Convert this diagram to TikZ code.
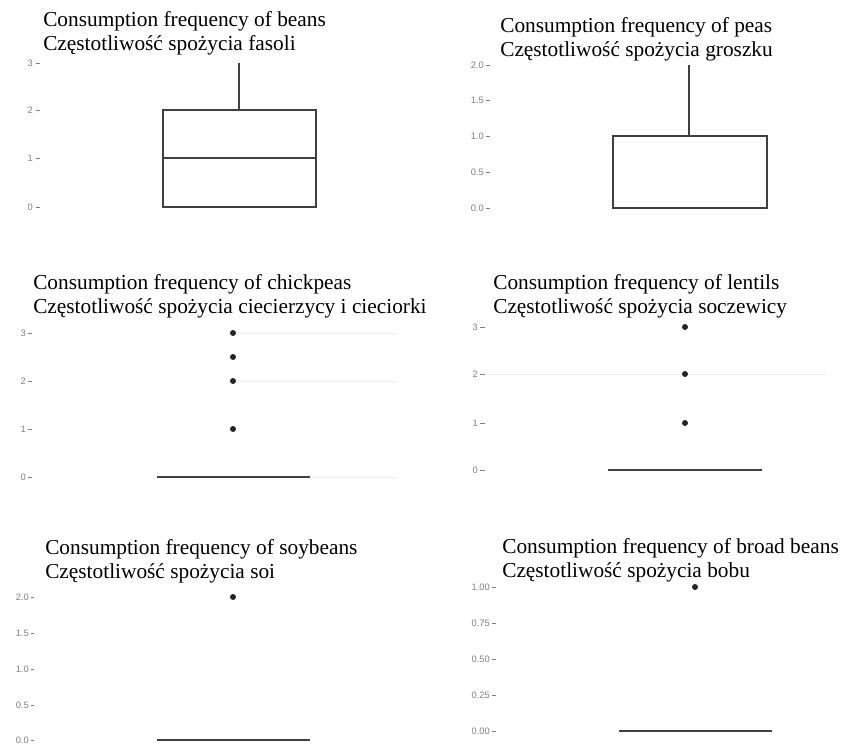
\documentclass[tikz,border=0pt]{standalone}
\usepackage{fontspec}
\setmainfont{Liberation Serif}
\newfontfamily\axisfont{Liberation Sans}
\begin{document}
\begin{tikzpicture}[x=0.75pt,y=-0.75pt,
    title/.style={anchor=base west,align=left,inner sep=0pt,
                  font=\fontsize{16}{17.5}\selectfont},
    ticklab/.style={anchor=east,inner sep=0pt,text=black!50,
                    font=\axisfont\fontsize{7}{8}\selectfont},
    tickmark/.style={draw=black!50,line width=0.5pt},
    boxline/.style={draw=black!75,line width=0.9pt},
    median/.style={draw=black!75,line width=2.2pt},
    outlier/.style={circle,fill=black!85,inner sep=0pt,minimum size=4.5pt},
    gridline/.style={draw=black!6,line width=0.5pt}]
  \useasboundingbox (0,0) rectangle (843,747);

  % beans
  \node[title] (tBeans) at (43,50) {Consumption frequency of beans\\ Częstotliwość spożycia fasoli};
  \foreach \v/\y in {0/207,1/158,2/110,3/63} {
    \node[ticklab] (beans\v) at (33,\y) {\v};
    \draw[tickmark] (36,\y) -- (40,\y);
  }
  \draw[boxline] (163,110) rectangle (316,207);
  \draw[median] (163,158) -- (316,158);
  \draw[boxline] (239,110) -- (239,63);

  % peas
  \node[title] (tPeas) at (500,56) {Consumption frequency of peas\\ Częstotliwość spożycia groszku};
  \foreach \v/\y in {0.0/208,0.5/172,1.0/136,1.5/100,2.0/65} {
    \node[ticklab] (peas\y) at (484,\y) {\v};
    \draw[tickmark] (486,\y) -- (490,\y);
  }
  \draw[boxline] (613,136) rectangle (767,208);
  \draw[median] (613,208) -- (767,208);
  \draw[boxline] (689,136) -- (689,65);

  % chickpeas
  \node[title] (tChick) at (33,313) {Consumption frequency of chickpeas\\ Częstotliwość spożycia ciecierzycy i cieciorki};
  \foreach \v/\y in {0/477,1/429,2/381,3/333} {
    \node[ticklab] (chick\v) at (26,\y) {\v};
    \draw[tickmark] (28,\y) -- (32,\y);
  }
  \draw[gridline] (233,333) -- (397,333);
  \draw[gridline] (233,381) -- (397,381);
  \draw[gridline] (310,477) -- (397,477);
  \draw[median] (157,477) -- (310,477);
  \foreach \y in {333,357,381,429} \node[outlier] (chickpt\y) at (233,\y) {};

  % lentils
  \node[title] (tLentils) at (493,313) {Consumption frequency of lentils\\ Częstotliwość spożycia soczewicy};
  \foreach \v/\y in {0/470,1/423,2/374,3/327} {
    \node[ticklab] (lent\v) at (478,\y) {\v};
    \draw[tickmark] (480,\y) -- (485,\y);
  }
  \draw[gridline] (487,374) -- (827,374);
  \draw[median] (608,470) -- (762,470);
  \foreach \y in {327,374,423} \node[outlier] (lentpt\y) at (685,\y) {};

  % soybeans
  \node[title] (tSoy) at (45,578) {Consumption frequency of soybeans\\ Częstotliwość spożycia soi};
  \foreach \v/\y in {0.0/740,0.5/705,1.0/669,1.5/633,2.0/597} {
    \node[ticklab] (soy\y) at (29,\y) {\v};
    \draw[tickmark] (31,\y) -- (34,\y);
  }
  \draw[median] (157,740) -- (310,740);
  \node[outlier] (soypt) at (233,597) {};

  % broad beans
  \node[title] (tBroad) at (502,577) {Consumption frequency of broad beans\\ Częstotliwość spożycia bobu};
  \foreach \v/\y in {0.00/731,0.25/695,0.50/659,0.75/623,1.00/587} {
    \node[ticklab] (broad\y) at (490,\y) {\v};
    \draw[tickmark] (492,\y) -- (496,\y);
  }
  \draw[median] (619,731) -- (772,731);
  \node[outlier] (broadpt) at (695,587) {};
\end{tikzpicture}
\end{document}
